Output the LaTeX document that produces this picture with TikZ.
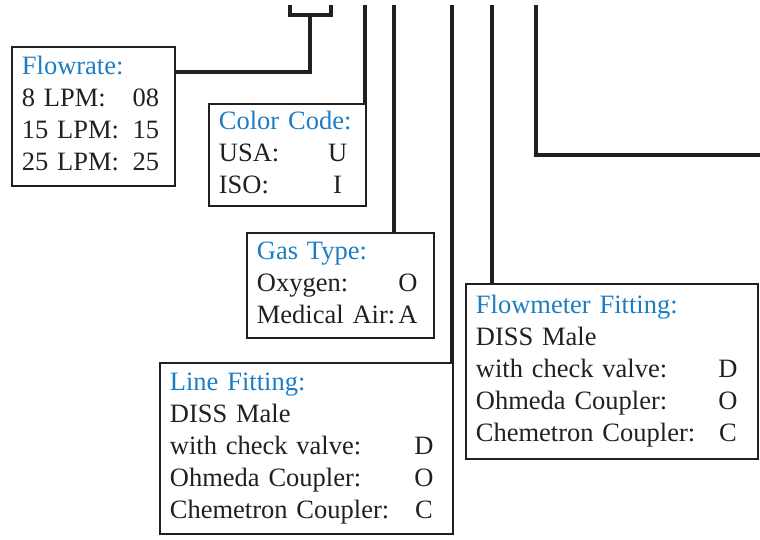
\documentclass[tikz,border=0pt]{standalone}
\usepackage{fontspec}
\setmainfont{Liberation Serif}
\usepackage{array}
\usetikzlibrary{positioning,calc}
\definecolor{inkblack}{RGB}{35,31,32}
\definecolor{codeblue}{RGB}{27,125,195}
\tikzset{
  wire/.style={line width=3.5pt,color=inkblack},
  codebox/.style={draw=inkblack,line width=1.8pt,anchor=north west,align=left,
    inner xsep=10pt,inner ysep=2pt,font=\fontsize{26.5}{32}\selectfont,text=inkblack},
}
\newcommand{\boxtitle}[1]{\multicolumn{2}{@{}l@{}}{\color{codeblue}#1}}

\begin{document}
\begin{tikzpicture}[x=1pt,y=-1pt]
\useasboundingbox (0,0) rectangle (760,539);

% option boxes
\node[codebox,text width=143pt,minimum height=139pt] (flow) at (11,46) {%
\begin{tabular}{@{}wl{111pt}@{}wc{26pt}@{}}
\boxtitle{Flowrate:}\\
8 LPM: & 08\\
15 LPM: & 15\\
25 LPM: & 25
\end{tabular}};

\node[codebox,text width=137pt,minimum height=102pt] (color) at (208,103) {%
\begin{tabular}{@{}wl{105pt}@{}wc{22pt}@{}}
\boxtitle{Color Code:}\\
USA: & U\\
ISO: & I
\end{tabular}};

\node[codebox,text width=167pt,minimum height=105pt] (gas) at (246,232) {%
\begin{tabular}{@{}wl{140pt}@{}wc{22pt}@{}}
\boxtitle{Gas Type:}\\
Oxygen: & O\\
Medical Air: & A
\end{tabular}};

\node[codebox,text width=273pt,minimum height=171pt] (line) at (159,362) {%
\begin{tabular}{@{}wl{243pt}@{}wc{22pt}@{}}
\boxtitle{Line Fitting:}\\
DISS Male & \\
with check valve: & D\\
Ohmeda Coupler: & O\\
Chemetron Coupler: & C
\end{tabular}};

\node[codebox,text width=272pt,minimum height=175pt] (fmeter) at (465,283) {%
\begin{tabular}{@{}wl{241pt}@{}wc{22pt}@{}}
\boxtitle{Flowmeter Fitting:}\\
DISS Male & \\
with check valve: & D\\
Ohmeda Coupler: & O\\
Chemetron Coupler: & C
\end{tabular}};

% leads from the top
\coordinate (brl) at (290,5);
\coordinate (brr) at (331,5);
\coordinate (brm) at (310,15);
\coordinate (elbow) at (310,72);
\coordinate (t2) at (365,5);
\coordinate (t3) at (394,5);
\coordinate (t4) at (452,5);
\coordinate (t5) at (492,5);
\coordinate (t6) at (536,5);
\coordinate (out) at (760,155);

\draw[wire] (brl) |- (brm -| brr) -- (brr);
\draw[wire] (brm) -- (elbow) -- (flow.east |- elbow);
\draw[wire] (t2) -- (t2 |- color.north);
\draw[wire] (t3) -- (t3 |- gas.north);
\draw[wire] (t4) -- (t4 |- line.north);
\draw[wire] (t5) -- (t5 |- fmeter.north);
\draw[wire] (t6) |- (out);
\end{tikzpicture}
\end{document}
